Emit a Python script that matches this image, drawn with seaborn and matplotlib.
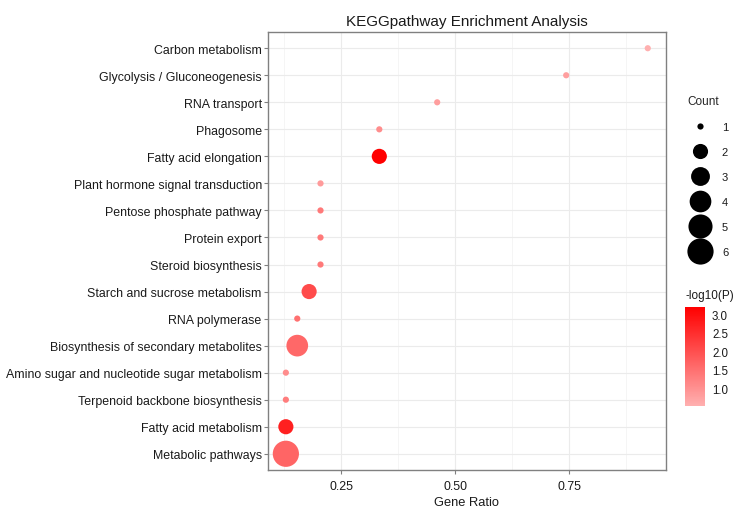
import numpy as np
import pandas as pd
import matplotlib
matplotlib.use("Agg")
import matplotlib.pyplot as plt
import seaborn as sns
from matplotlib.colors import LinearSegmentedColormap, Normalize
from matplotlib.lines import Line2D
from matplotlib.ticker import FixedLocator
from matplotlib.cm import ScalarMappable

pathways = ["Carbon metabolism", "Glycolysis / Gluconeogenesis", "RNA transport",
            "Phagosome", "Fatty acid elongation", "Plant hormone signal transduction",
            "Pentose phosphate pathway", "Protein export", "Steroid biosynthesis",
            "Starch and sucrose metabolism", "RNA polymerase",
            "Biosynthesis of secondary metabolites",
            "Amino sugar and nucleotide sugar metabolism",
            "Terpenoid backbone biosynthesis", "Fatty acid metabolism",
            "Metabolic pathways"]
gene_ratio = [0.922, 0.743, 0.460, 0.333, 0.333, 0.204, 0.204, 0.204, 0.204,
              0.179, 0.153, 0.153, 0.128, 0.128, 0.128, 0.128]
counts = [1, 1, 1, 1, 2, 1, 1, 1, 1, 2, 1, 4, 1, 1, 2, 6]
neg_log10_p = [0.52, 0.78, 0.80, 1.05, 3.19, 0.84, 1.35, 1.35, 1.35,
               2.05, 1.50, 1.62, 1.05, 1.30, 2.70, 1.65]
count_levels = [1, 2, 3, 4, 5, 6]
x_ticks = [0.25, 0.50, 0.75]
cbar_ticks = [1.0, 1.5, 2.0, 2.5, 3.0]

df = pd.DataFrame({"Pathway": pathways, "GeneRatio": gene_ratio,
                   "Count": counts, "P": neg_log10_p})

sns.set_theme(style="white")
plt.rcParams['font.family'] = ['Liberation Sans', 'DejaVu Sans']

W, H = 742, 510
fig = plt.figure(figsize=(W / 100, H / 100), dpi=100)
ax = fig.add_axes([268 / W, 1 - 471 / H, (666 - 268) / W, (471 - 33) / H])


def diam_pt(c):
    size = 1 + 5 * np.sqrt((c - 1) / 5)
    return (4.0 * size + 2.2) * 0.72


size_map = {c: diam_pt(c) ** 2 for c in count_levels}

cmap = LinearSegmentedColormap.from_list("pinkred", ["#FFB0B0", "#FF0000"])
norm = Normalize(min(neg_log10_p), max(neg_log10_p))

sns.scatterplot(data=df, x="GeneRatio", y="Pathway", hue="P", size="Count",
                palette=cmap, hue_norm=norm, sizes=size_map, linewidth=0,
                legend=False, ax=ax, zorder=3)

ax.set_xlim(0.0888, 0.962)
ax.set_ylim(len(pathways) - 0.4, -0.6)
ax.set_xticks(x_ticks)
ax.set_xticklabels([f"{t:.2f}" for t in x_ticks])
ax.xaxis.set_minor_locator(FixedLocator([0.125, 0.375, 0.625, 0.875]))
ax.set_axisbelow(True)
ax.grid(True, which="major", color="#EBEBEB", linewidth=0.8)
ax.grid(True, which="minor", axis="x", color="#F2F2F2", linewidth=0.5)
for s in ax.spines.values():
    s.set_color("#808080")
    s.set_linewidth(1.0)
ax.tick_params(axis="both", which="major", length=3, width=0.8, color="#808080",
               labelsize=8.9, labelcolor="#1A1A1A", pad=1.5, bottom=True, left=True)
ax.tick_params(axis="x", which="major", pad=4)
ax.tick_params(axis="x", which="minor", length=0)
ax.set_xlabel("Gene Ratio", fontsize=9.3, color="#1A1A1A", labelpad=3)
ax.set_ylabel("")
ax.set_title("KEGGpathway Enrichment Analysis", fontsize=11, color="#1A1A1A", pad=5)

# Size legend
handles = [Line2D([], [], marker="o", linestyle="", color="black",
                  markeredgewidth=0, markersize=diam_pt(c)) for c in count_levels]
leg = ax.legend(handles, [str(c) for c in count_levels], title="Count",
                loc="upper left", bbox_to_anchor=(683 / W, 1 - 92 / H),
                bbox_transform=fig.transFigure, frameon=False, fontsize=8,
                title_fontsize=8.5, labelspacing=1.34, handletextpad=0.9,
                borderaxespad=0, alignment="left", handlelength=2.2)
for t in leg.get_texts():
    t.set_color("#1A1A1A")

# Colour bar
cax = fig.add_axes([685 / W, 1 - 407 / H, 20 / W, 99 / H])
cb = fig.colorbar(ScalarMappable(norm=norm, cmap=cmap), cax=cax)
cb.outline.set_visible(False)
cb.set_ticks(cbar_ticks)
cb.set_ticklabels([f"{t:.1f}" for t in cbar_ticks])
cax.tick_params(axis="y", which="both", direction="in", length=3.5, width=0.8,
                color="white", left=True, right=True, labelsize=8.3,
                labelcolor="#1A1A1A", pad=5)
fig.text(685 / W, 1 - 296 / H, "-log10(P)", fontsize=8.5, color="#1A1A1A",
         ha="left", va="center")

fig.savefig("out.png", dpi=100)
